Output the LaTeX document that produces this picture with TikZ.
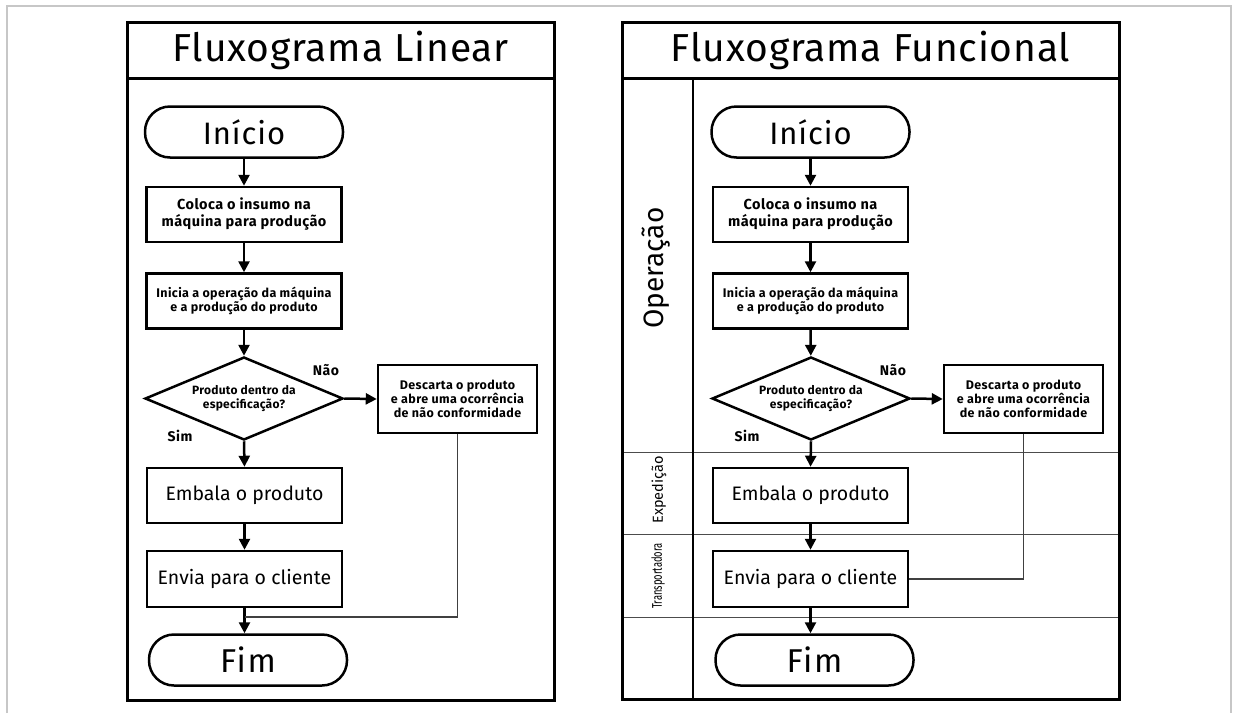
\documentclass[tikz,border=0pt]{standalone}
\usepackage{fontspec}
\setmainfont{Fira Sans}
\usetikzlibrary{shapes.geometric,arrows.meta}
\begin{document}
\begin{tikzpicture}[x=1pt,y=-1pt,
  frame/.style={line width=2pt,draw=black!22},
  panel/.style={line width=3pt,draw=black},
  lane/.style={line width=1pt,draw=black!70},
  proc/.style={draw,line width=2.5pt,minimum width=195pt,minimum height=55pt,inner sep=0pt,align=center,fill=white},
  small/.style={font=\bfseries\fontsize{12.5}{14}\selectfont\addfontfeatures{LetterSpace=3}},
  mid/.style={font=\bfseries\fontsize{14.5}{17}\selectfont\addfontfeatures{LetterSpace=3}},
  big/.style={font=\fontsize{19.5}{22}\selectfont},
  term/.style={draw,line width=2.5pt,rounded corners=25pt,minimum width=198pt,minimum height=51pt,inner sep=0pt,fill=white,font=\fontsize{31}{32}\selectfont\addfontfeatures{LetterSpace=3}},
  dec/.style={draw,diamond,aspect=2.4,line width=2.5pt,minimum width=198pt,minimum height=83pt,inner sep=0pt,align=center,fill=white,font=\bfseries\fontsize{12}{13.8}\selectfont\addfontfeatures{LetterSpace=2}},
  arr/.style={line width=2.5pt,-{Triangle[length=11pt,width=11pt]}},
  back/.style={line width=1.3pt,draw=black!75},
  lbl/.style={font=\bfseries\fontsize{14}{16}\selectfont\addfontfeatures{LetterSpace=4}},
  title/.style={font=\fontsize{39}{42}\selectfont\addfontfeatures{LetterSpace=2}},
  lanelbl/.style={rotate=90,inner sep=0pt}]
\useasboundingbox (0,0) rectangle (1233,713);
% outer frame
\draw[frame] (7,713) -- (7,6) -- (1231,6) -- (1231,713);

% ---------- left panel ----------
\draw[panel] (127,22) rectangle (554,700);
\draw[panel] (127,78) -- (554,78);
\node[title] (tL) at (340.5,50) {Fluxograma Linear};

\node[term] (iniL) at (244,132) {Início};
\node[proc,mid] (p1L) at (244,214.5) {Coloca o insumo na\\máquina para produção};
\node[proc,small] (p2L) at (244,301) {Inicia a operação da máquina\\e a produção do produto};
\node[dec] (dL) at (244,398.5) {Produto dentro da\\especificação?};
\node[proc,small,minimum width=159pt,minimum height=68pt] (xL) at (457.5,399) {Descarta o produto\\e abre uma ocorrência\\de não conformidade};
\node[proc,big] (eL) at (244.5,495.5) {Embala o produto};
\node[proc,big,minimum height=56pt] (vL) at (244.5,579) {Envia para o cliente};
\node[term,font=\fontsize{33}{34}\selectfont\addfontfeatures{LetterSpace=5}] (fL) at (248,660) {Fim};
\node[lbl] (naoL) at (326,370) {Não};
\node[lbl] (simL) at (180,436) {Sim};
\coordinate (jL) at (244.5,617);

\draw[arr] (iniL) -- (p1L);
\draw[arr] (p1L) -- (p2L);
\draw[arr] (p2L) -- (dL);
\draw[arr] (dL.east) -- (xL.west);
\draw[arr] (dL.south) -- (eL.north);
\draw[arr] (eL) -- (vL);
\draw[arr] (vL.south) -- (vL.south |- fL.north);
\draw[back] (xL.south) |- (jL);

% ---------- right panel ----------
\draw[lane] (622,452) -- (1119,452);
\draw[lane] (622,534) -- (1119,534);
\draw[lane] (622,617) -- (1119,617);
\draw[panel] (622,22) rectangle (1119,699);
\draw[panel] (622,78) -- (1119,78);
\draw[line width=2.5pt] (693,78) -- (693,699);
\node[title] (tR) at (870.5,50) {Fluxograma Funcional};

\node[lanelbl,font=\fontsize{28}{30}\selectfont] (lOp) at (656,268) {Operação};
\node[lanelbl,font=\fontsize{14.5}{16}\selectfont] (lEx) at (659,490) {Expedição};
\node[lanelbl,font=\fontsize{14}{16}\selectfont] (lTr) at (658,576) {\scalebox{0.67}[1]{Transportadora}};

\node[term] (iniR) at (810.5,132) {Início};
\node[proc,mid] (p1R) at (810.5,214.5) {Coloca o insumo na\\máquina para produção};
\node[proc,small] (p2R) at (810.5,301) {Inicia a operação da máquina\\e a produção do produto};
\node[dec] (dR) at (811,398.5) {Produto dentro da\\especificação?};
\node[proc,small,minimum width=159pt,minimum height=68pt] (xR) at (1023.5,399) {Descarta o produto\\e abre uma ocorrência\\de não conformidade};
\node[proc,big] (eR) at (810.5,495.5) {Embala o produto};
\node[proc,big,minimum height=56pt] (vR) at (810.5,579) {Envia para o cliente};
\node[term,font=\fontsize{33}{34}\selectfont\addfontfeatures{LetterSpace=5}] (fR) at (814.5,660) {Fim};
\node[lbl] (naoR) at (893,370) {Não};
\node[lbl] (simR) at (747,436) {Sim};

\draw[arr] (iniR) -- (p1R);
\draw[arr] (p1R) -- (p2R);
\draw[arr] (p2R) -- (dR);
\draw[arr] (dR.east) -- (xR.west);
\draw[arr] (dR.south) -- (eR.north);
\draw[arr] (eR) -- (vR);
\draw[arr] (vR.south) -- (vR.south |- fR.north);
\draw[back] (xR.south) |- (vR.east);
\end{tikzpicture}
\end{document}
